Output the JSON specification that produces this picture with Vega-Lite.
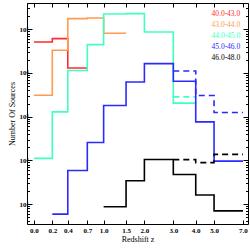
{
  "$schema": "https://vega.github.io/schema/vega-lite/v6.json",
  "width": 221,
  "height": 221,
  "autosize": {"type": "none"},
  "padding": {"left": 27, "top": 3, "right": 2, "bottom": 25},
  "config": {
    "font": "Liberation Serif",
    "view": {"stroke": "#000000", "strokeWidth": 1},
    "axis": {"domain": false, "grid": false, "tickColor": "#000000", "labelColor": "#000000", "titleColor": "#000000", "labelFont": "Liberation Serif", "titleFont": "Liberation Serif", "titleFontWeight": "normal", "tickWidth": 1}
  },
  "data": {
    "values": [
      {"series": "40.0-43.0", "style": "solid", "z1": 1, "n": 51300},
      {"series": "40.0-43.0", "style": "solid", "z1": 1.2, "n": 61300},
      {"series": "40.0-43.0", "style": "solid", "z1": 1.4, "n": 13000},
      {"series": "40.0-43.0", "style": "solid", "z1": 1.7, "n": 13000},
      {"series": "43.0-44.0", "style": "solid", "z1": 1, "n": 3100},
      {"series": "43.0-44.0", "style": "solid", "z1": 1.2, "n": 33100},
      {"series": "43.0-44.0", "style": "solid", "z1": 1.4, "n": 176000},
      {"series": "43.0-44.0", "style": "solid", "z1": 1.7, "n": 182000},
      {"series": "43.0-44.0", "style": "solid", "z1": 2, "n": 81100},
      {"series": "43.0-44.0", "style": "solid", "z1": 2.5, "n": 81100},
      {"series": "44.0-45.0", "style": "solid", "z1": 1, "n": 111},
      {"series": "44.0-45.0", "style": "solid", "z1": 1.2, "n": 1290},
      {"series": "44.0-45.0", "style": "solid", "z1": 1.4, "n": 11400},
      {"series": "44.0-45.0", "style": "solid", "z1": 1.7, "n": 44700},
      {"series": "44.0-45.0", "style": "solid", "z1": 2, "n": 224000},
      {"series": "44.0-45.0", "style": "solid", "z1": 2.5, "n": 229000},
      {"series": "44.0-45.0", "style": "solid", "z1": 3, "n": 86700},
      {"series": "44.0-45.0", "style": "solid", "z1": 4, "n": 2040},
      {"series": "44.0-45.0", "style": "solid", "z1": 5, "n": 2040},
      {"series": "44.0-45.0", "style": "dashed", "z1": 4, "n": 2840},
      {"series": "44.0-45.0", "style": "dashed", "z1": 5, "n": 2840},
      {"series": "45.0-46.0", "style": "solid", "z1": 1.2, "n": 5.9},
      {"series": "45.0-46.0", "style": "solid", "z1": 1.4, "n": 58.9},
      {"series": "45.0-46.0", "style": "solid", "z1": 1.7, "n": 257},
      {"series": "45.0-46.0", "style": "solid", "z1": 2, "n": 1800},
      {"series": "45.0-46.0", "style": "solid", "z1": 2.5, "n": 6240},
      {"series": "45.0-46.0", "style": "solid", "z1": 3, "n": 16400},
      {"series": "45.0-46.0", "style": "solid", "z1": 4, "n": 6470},
      {"series": "45.0-46.0", "style": "solid", "z1": 5, "n": 760},
      {"series": "45.0-46.0", "style": "solid", "z1": 6, "n": 96},
      {"series": "45.0-46.0", "style": "solid", "z1": 8, "n": 96},
      {"series": "45.0-46.0", "style": "dashed", "z1": 4, "n": 11100},
      {"series": "45.0-46.0", "style": "dashed", "z1": 5, "n": 3050},
      {"series": "45.0-46.0", "style": "dashed", "z1": 6, "n": 1250},
      {"series": "45.0-46.0", "style": "dashed", "z1": 8, "n": 1250},
      {"series": "46.0-48.0", "style": "solid", "z1": 2, "n": 8.7},
      {"series": "46.0-48.0", "style": "solid", "z1": 2.5, "n": 34.1},
      {"series": "46.0-48.0", "style": "solid", "z1": 3, "n": 105},
      {"series": "46.0-48.0", "style": "solid", "z1": 4, "n": 47.7},
      {"series": "46.0-48.0", "style": "solid", "z1": 5, "n": 16.1},
      {"series": "46.0-48.0", "style": "solid", "z1": 6, "n": 7.0},
      {"series": "46.0-48.0", "style": "solid", "z1": 8, "n": 7.0},
      {"series": "46.0-48.0", "style": "dashed", "z1": 4, "n": 104},
      {"series": "46.0-48.0", "style": "dashed", "z1": 5, "n": 88.9},
      {"series": "46.0-48.0", "style": "dashed", "z1": 6, "n": 137},
      {"series": "46.0-48.0", "style": "dashed", "z1": 8, "n": 137}
    ]
  },
  "layer": [
    {
      "mark": {"type": "line", "interpolate": "step-after", "strokeWidth": 1.6, "clip": true},
      "encoding": {
        "x": {
          "field": "z1", "type": "quantitative",
          "scale": {"type": "log", "domain": [0.933, 8.41], "nice": false},
          "axis": {
            "orient": "bottom",
            "values": [1, 1.2, 1.4, 1.7, 2, 2.5, 3, 4, 5, 6, 8],
            "labelExpr": "format(datum.value - 1, '.1f')",
            "tickSize": -4,
            "labelPadding": 6,
            "labelFontSize": 7,
            "labelFontWeight": "bold",
            "title": "Redshift  z",
            "titleFontSize": 8,
            "titlePadding": 2
          }
        },
        "y": {
          "field": "n", "type": "quantitative",
          "scale": {"type": "log", "domain": [3.5, 400000], "nice": false},
          "axis": {
            "orient": "left",
            "values": [4,5,6,7,8,9,10,20,30,40,50,60,70,80,90,100,200,300,400,500,600,700,800,900,1000,2000,3000,4000,5000,6000,7000,8000,9000,10000,20000,30000,40000,50000,60000,70000,80000,90000,100000,200000,300000,400000],
            "labelExpr": "indexof([10,100,1000,10000,100000], datum.value) >= 0 ? '10' + ['','¹','²','³','⁴','⁵'][round(log(datum.value)/LN10)] : ''",
            "tickSize": {"condition": {"test": "indexof([10,100,1000,10000,100000], datum.value) >= 0", "value": -5}, "value": -2.5},
            "labelPadding": 4,
            "labelFontSize": 7,
            "labelFontWeight": "bold",
            "title": "Number Of Sources",
            "titleFontSize": 8,
            "titlePadding": 2
          }
        },
        "color": {
          "field": "series", "type": "nominal",
          "scale": {"domain": ["40.0-43.0", "43.0-44.0", "44.0-45.0", "45.0-46.0", "46.0-48.0"], "range": ["#ff2a2a", "#ff9a50", "#40ffc0", "#2a2aff", "#000000"]},
          "legend": {
            "orient": "top-right",
            "offset": 7,
            "padding": 0,
            "title": null,
            "symbolSize": 0,
            "symbolStrokeWidth": 0,
            "symbolOpacity": 0,
            "labelOffset": 0,
            "labelFont": "Liberation Serif",
            "labelFontSize": 7.5,
            "rowPadding": 2,
            "labelColor": {"expr": "scale('color', datum.value)"}
          }
        },
        "strokeDash": {
          "field": "style", "type": "nominal",
          "scale": {"domain": ["solid", "dashed"], "range": [[1, 0], [6, 4]]},
          "legend": null
        }
      }
    },
    {
      "mark": {"type": "point", "opacity": 0},
      "encoding": {
        "x": {
          "field": "z1", "type": "quantitative",
          "scale": {"type": "log", "domain": [0.933, 8.41], "nice": false},
          "axis": {"orient": "top", "values": [1, 1.2, 1.4, 1.7, 2, 2.5, 3, 4, 5, 6, 8], "labels": false, "tickSize": -4, "title": null}
        },
        "y": {
          "field": "n", "type": "quantitative",
          "scale": {"type": "log", "domain": [3.5, 400000], "nice": false},
          "axis": {
            "orient": "right",
            "values": [4,5,6,7,8,9,10,20,30,40,50,60,70,80,90,100,200,300,400,500,600,700,800,900,1000,2000,3000,4000,5000,6000,7000,8000,9000,10000,20000,30000,40000,50000,60000,70000,80000,90000,100000,200000,300000,400000],
            "labels": false,
            "tickSize": {"condition": {"test": "indexof([10,100,1000,10000,100000], datum.value) >= 0", "value": -5}, "value": -2.5},
            "title": null
          }
        }
      }
    }
  ],
  "resolve": {"axis": {"x": "independent", "y": "independent"}}
}
